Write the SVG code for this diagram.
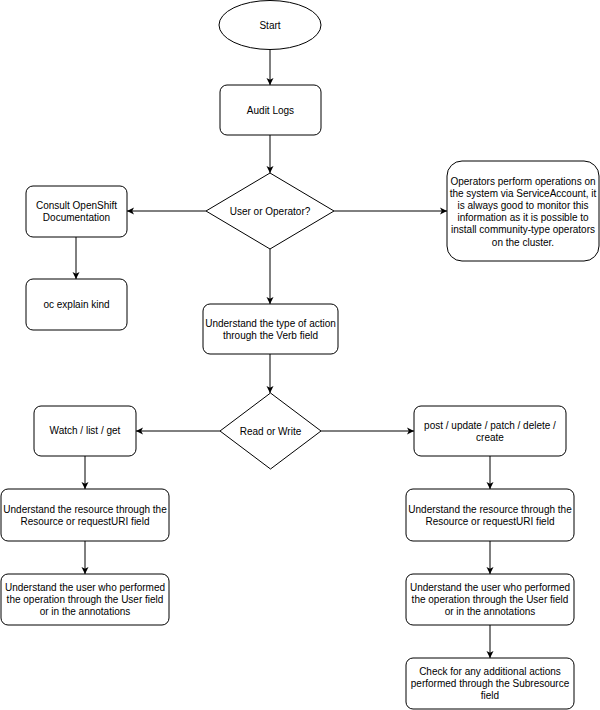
<svg xmlns="http://www.w3.org/2000/svg" width="600" height="710" viewBox="0 0 600 710">
<defs>
<marker id="arr" markerWidth="8" markerHeight="8" refX="7" refY="4" orient="auto" markerUnits="userSpaceOnUse">
<path d="M0,0.5 L7,4 L0,7.5 L1.8,4 Z" fill="#000"/>
</marker>
</defs>
<style>
.s{fill:#fff;stroke:#000;stroke-width:1}
.t{font-family:"Liberation Sans",Arial,Helvetica,sans-serif;font-size:10px;fill:#000;text-anchor:middle}
.c{fill:none;stroke:#000;stroke-width:1;marker-end:url(#arr)}
</style>
<rect width="600" height="710" fill="#fff"/>
<g id="connectors">
<line class="c" x1="270" y1="50" x2="270" y2="85"/>
<line class="c" x1="270" y1="135" x2="270" y2="173"/>
<line class="c" x1="206" y1="211" x2="127" y2="211"/>
<line class="c" x1="334" y1="211" x2="447" y2="211"/>
<line class="c" x1="270" y1="249" x2="270" y2="304"/>
<line class="c" x1="76" y1="237" x2="76" y2="279"/>
<line class="c" x1="270" y1="354" x2="270" y2="393"/>
<line class="c" x1="220" y1="431" x2="136" y2="431"/>
<line class="c" x1="321" y1="431" x2="414" y2="431"/>
<line class="c" x1="85" y1="456" x2="85" y2="489"/>
<line class="c" x1="85" y1="541" x2="85" y2="574"/>
<line class="c" x1="490" y1="456" x2="490" y2="489"/>
<line class="c" x1="490" y1="541" x2="490" y2="574"/>
<line class="c" x1="490" y1="625" x2="490" y2="658"/>
</g>
<g id="start">
<ellipse class="s" cx="270" cy="25" rx="51" ry="24.5"/>
<text class="t" x="270" y="28.6">Start</text>
</g>
<g id="audit-logs">
<rect class="s" x="220" y="85" width="101" height="50" rx="7"/>
<text class="t" x="270.5" y="113.6">Audit Logs</text>
</g>
<g id="user-or-operator">
<polygon class="s" points="270,173 334,211 270,249 206,211"/>
<text class="t" x="270" y="215.2">User or Operator?</text>
</g>
<g id="consult-docs">
<rect class="s" x="26" y="186" width="101" height="51" rx="7"/>
<text class="t" x="76.5" y="208.6">Consult OpenShift</text>
<text class="t" x="76.5" y="220.6">Documentation</text>
</g>
<g id="oc-explain">
<rect class="s" x="26" y="279" width="101" height="51" rx="7"/>
<text class="t" x="76.5" y="308.3">oc explain kind</text>
</g>
<g id="operators-note">
<rect class="s" x="447" y="161" width="152" height="100" rx="15"/>
<text class="t" x="523" y="184.6">Operators perform operations on</text>
<text class="t" x="523" y="196.8">the system via ServiceAccount, it</text>
<text class="t" x="523" y="209">is always good to monitor this</text>
<text class="t" x="523" y="221.2">information as it is possible to</text>
<text class="t" x="523" y="233.4">install community-type operators</text>
<text class="t" x="523" y="245.6">on the cluster.</text>
</g>
<g id="verb-field">
<rect class="s" x="203" y="304" width="135" height="50" rx="7"/>
<text class="t" x="270.5" y="326.9">Understand the type of action</text>
<text class="t" x="270.5" y="338.9">through the Verb field</text>
</g>
<g id="read-or-write">
<polygon class="s" points="270.5,393 321,431 270.5,469 220,431"/>
<text class="t" x="270.5" y="434.6">Read or Write</text>
</g>
<g id="watch-list-get">
<rect class="s" x="34" y="406" width="102" height="50" rx="7"/>
<text class="t" x="85" y="434.4">Watch / list / get</text>
</g>
<g id="post-update">
<rect class="s" x="414" y="406" width="152" height="50" rx="7"/>
<text class="t" x="490" y="428.6">post / update / patch / delete /</text>
<text class="t" x="490" y="440.6">create</text>
</g>
<g id="resource-left">
<rect class="s" x="1" y="489" width="168" height="52" rx="7"/>
<text class="t" x="85" y="512.6">Understand the resource through the</text>
<text class="t" x="85" y="524.6">Resource or requestURI field</text>
</g>
<g id="user-left">
<rect class="s" x="1" y="574" width="168" height="51" rx="7"/>
<text class="t" x="85" y="591.4">Understand the user who performed</text>
<text class="t" x="85" y="603.4">the operation through the User field</text>
<text class="t" x="85" y="615.4">or in the annotations</text>
</g>
<g id="resource-right">
<rect class="s" x="406" y="489" width="168" height="52" rx="7"/>
<text class="t" x="490" y="512.6">Understand the resource through the</text>
<text class="t" x="490" y="524.6">Resource or requestURI field</text>
</g>
<g id="user-right">
<rect class="s" x="406" y="574" width="168" height="51" rx="7"/>
<text class="t" x="490" y="591.4">Understand the user who performed</text>
<text class="t" x="490" y="603.4">the operation through the User field</text>
<text class="t" x="490" y="615.4">or in the annotations</text>
</g>
<g id="subresource">
<rect class="s" x="406" y="658" width="168" height="51" rx="7"/>
<text class="t" x="490" y="675.4">Check for any additional actions</text>
<text class="t" x="490" y="687.4">performed through the Subresource</text>
<text class="t" x="490" y="699.4">field</text>
</g>
</svg>
